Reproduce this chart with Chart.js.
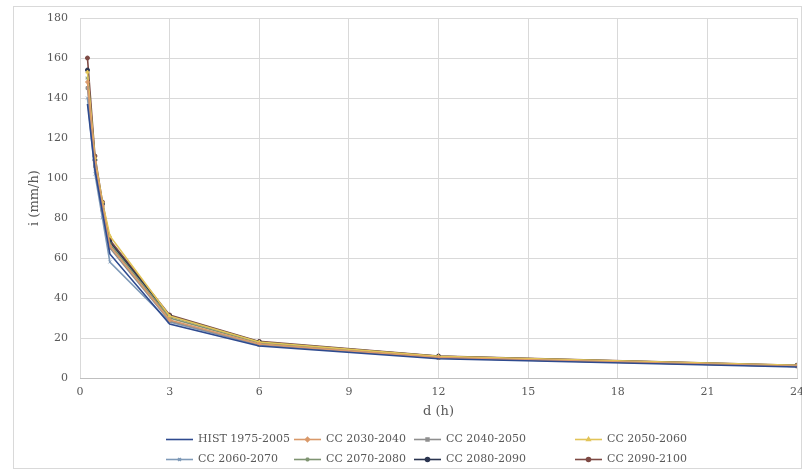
<!DOCTYPE html>
<html>
<head>
<meta charset="utf-8">
<script src="https://cdn.jsdelivr.net/npm/chart.js@4.4.1/dist/chart.umd.min.js"></script>
<style>
  html, body { margin: 0; padding: 0; background: #ffffff; }
  #wrap { position: relative; width: 802px; height: 470px; }
</style>
</head>
<body>
<div id="wrap"><canvas id="c" width="802" height="470"></canvas></div>
<script>
// ---- data ----
const durations = [0.25, 0.5, 0.75, 1, 3, 6, 12, 24];
const seriesNames = ["HIST 1975-2005", "CC 2030-2040", "CC 2040-2050", "CC 2050-2060",
                     "CC 2060-2070", "CC 2070-2080", "CC 2080-2090", "CC 2090-2100"];
const hist1975   = [137, 104, 83, 62, 27.0, 16.0, 9.6, 5.5];
const cc2030     = [148, 108, 86, 66, 29.0, 17.0, 10.2, 5.9];
const cc2040     = [145, 106, 84, 65, 28.5, 16.6, 10.0, 5.8];
const cc2050     = [153, 110, 88, 71, 31.0, 18.0, 10.8, 6.3];
const cc2060     = [140, 102, 80, 58, 28.0, 16.5, 10.0, 5.8];
const cc2070     = [150, 108, 86, 67, 30.0, 17.5, 10.5, 6.0];
const cc2080     = [154, 109, 87, 68, 31.0, 18.0, 10.8, 6.2];
const cc2090     = [160, 111, 88, 69, 31.5, 18.3, 11.0, 6.4];
const xTicks = [0, 3, 6, 9, 12, 15, 18, 21, 24];
const yTicks = [0, 20, 40, 60, 80, 100, 120, 140, 160, 180];

const allValues = [hist1975, cc2030, cc2040, cc2050, cc2060, cc2070, cc2080, cc2090];
const colors = ['#2E4A8F', '#D9996A', '#8F8F8F', '#E2C458', '#7F9AB8', '#7F9472', '#2B3550', '#7E4A44'];
const markers = [false, 'rectRot', 'rect', 'triangle', 'crossRot', 'star', 'circle', 'circle'];

const datasets = allValues.map((vals, i) => ({
  label: seriesNames[i],
  data: durations.map((d, j) => ({ x: d, y: vals[j] })),
  borderColor: colors[i],
  backgroundColor: colors[i],
  borderWidth: 1.6,
  pointStyle: markers[i] || 'circle',
  pointRadius: markers[i] ? 2 : 0,
  pointBorderWidth: 1,
  tension: 0,
  fill: false
}));

const font = "'DejaVu Serif', 'Liberation Serif', serif";
const textCol = '#595959';

const framePlugin = {
  id: 'frame',
  beforeDraw(chart) {
    const ctx = chart.ctx;
    ctx.save();
    ctx.fillStyle = '#ffffff';
    ctx.fillRect(0, 0, chart.width, chart.height);
    ctx.strokeStyle = '#d9d9d9';
    ctx.lineWidth = 1;
    ctx.strokeRect(13.5, 6.5, 788, 462);
    ctx.restore();
  }
};

const legendPlugin = {
  id: 'customLegend',
  afterDraw(chart) {
    const ctx = chart.ctx;
    const cols = [198, 326, 446, 607];
    const rows = [439, 459];
    ctx.save();
    ctx.font = "11px " + font;
    ctx.textBaseline = 'middle';
    chart.data.datasets.forEach((ds, i) => {
      const tx = cols[i % 4];
      const ty = rows[Math.floor(i / 4)];
      const x0 = tx - 32, x1 = tx - 5;
      ctx.strokeStyle = ds.borderColor;
      ctx.lineWidth = 1.6;
      ctx.beginPath();
      ctx.moveTo(x0, ty + 0.5);
      ctx.lineTo(x1, ty + 0.5);
      ctx.stroke();
      if (ds.pointRadius > 0) {
        ctx.fillStyle = ds.backgroundColor;
        Chart.helpers.drawPoint(ctx, {
          pointStyle: ds.pointStyle, radius: 2, rotation: 0, borderWidth: 1
        }, (x0 + x1) / 2, ty + 0.5);
      }
      ctx.fillStyle = textCol;
      ctx.fillText(ds.label, tx, ty);
    });
    ctx.restore();
  }
};

new Chart(document.getElementById('c'), {
  type: 'line',
  data: { datasets },
  plugins: [framePlugin, legendPlugin],
  options: {
    responsive: false,
    animation: false,
    devicePixelRatio: 1,
    layout: { padding: { left: 13, top: 18, right: 5, bottom: 45 } },
    plugins: { legend: { display: false }, tooltip: { enabled: false } },
    scales: {
      x: {
        type: 'linear',
        min: 0, max: 24,
        afterBuildTicks(scale) { scale.ticks = xTicks.map(v => ({ value: v })); },
        afterFit(scale) { scale.height = 47; scale.paddingLeft = 0; scale.paddingRight = 0; },
        grid: { color: '#d9d9d9', drawTicks: false, lineWidth: 1 },
        border: { display: true, color: '#bfbfbf' },
        ticks: { padding: 8, color: textCol, font: { family: font, size: 11 }, maxRotation: 0 },
        title: { display: true, text: 'd (h)', color: textCol, font: { family: font, size: 13 }, padding: { top: 0, bottom: 6 } }
      },
      y: {
        type: 'linear',
        min: 0, max: 180,
        afterBuildTicks(scale) { scale.ticks = yTicks.map(v => ({ value: v })); },
        afterFit(scale) { scale.width = 67; scale.paddingTop = 0; scale.paddingBottom = 0; },
        grid: { color: '#d9d9d9', drawTicks: false, lineWidth: 1 },
        border: { display: false },
        ticks: { padding: 12, color: textCol, font: { family: font, size: 11 } },
        title: { display: true, text: 'i (mm/h)', color: textCol, font: { family: font, size: 13 }, padding: { top: 14, bottom: 0 } }
      }
    }
  }
});
</script>
</body>
</html>
